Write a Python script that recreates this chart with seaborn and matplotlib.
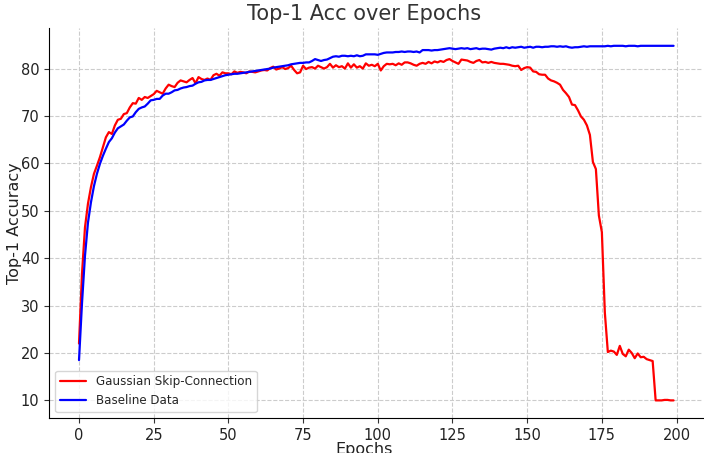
import numpy as np
import pandas as pd
import matplotlib
matplotlib.use("Agg")
import matplotlib.pyplot as plt
import seaborn as sns

epochs = list(range(200))

baseline = [
    18.5, 30.5, 40.5, 47.5, 51.8, 55.2, 57.8, 59.9, 61.6, 63.1,
    64.5, 65.3, 66.5, 67.4, 67.8, 68.2, 69.0, 69.7, 69.9, 70.8,
    71.5, 71.8, 72.0, 72.6, 73.3, 73.4, 73.6, 73.6, 74.3, 74.7,
    74.7, 75.0, 75.4, 75.5, 75.8, 76.0, 76.1, 76.3, 76.4, 76.8,
    77.1, 77.2, 77.5, 77.6, 77.6, 77.8, 78.0, 78.2, 78.4, 78.6,
    78.7, 78.8, 78.9, 78.9, 79.0, 79.1, 79.2, 79.3, 79.4, 79.5,
    79.6, 79.7, 79.8, 79.9, 80.0, 80.2, 80.3, 80.4, 80.5, 80.6,
    80.7, 80.9, 81.0, 81.1, 81.2, 81.2, 81.3, 81.3, 81.6, 82.0,
    81.8, 81.6, 81.8, 81.9, 82.2, 82.5, 82.6, 82.5, 82.7, 82.7,
    82.6, 82.7, 82.6, 82.8, 82.6, 82.7, 83.0, 83.0, 83.0, 83.0,
    82.9, 83.1, 83.3, 83.4, 83.4, 83.4, 83.5, 83.5, 83.6, 83.5,
    83.6, 83.6, 83.5, 83.6, 83.4, 83.9, 83.9, 83.9, 83.8, 83.9,
    83.9, 84.0, 84.1, 84.2, 84.3, 84.2, 84.1, 84.2, 84.3, 84.2,
    84.3, 84.1, 84.2, 84.3, 84.1, 84.2, 84.2, 84.1, 84.0, 84.2,
    84.3, 84.4, 84.3, 84.5, 84.3, 84.5, 84.4, 84.5, 84.6, 84.4,
    84.5, 84.6, 84.4, 84.6, 84.6, 84.5, 84.6, 84.6, 84.7, 84.7,
    84.6, 84.7, 84.6, 84.7, 84.5, 84.4, 84.5, 84.5, 84.6, 84.7,
    84.6, 84.7, 84.7, 84.7, 84.7, 84.7, 84.7, 84.8, 84.7, 84.8,
    84.8, 84.8, 84.8, 84.7, 84.8, 84.8, 84.8, 84.7, 84.8, 84.8,
    84.8, 84.8, 84.8, 84.8, 84.8, 84.8, 84.8, 84.8, 84.8, 84.8,
]

gaussian = [
    22.0, 36.7, 46.5, 51.5, 55.0, 57.8, 59.5, 61.3, 63.4, 65.5,
    66.6, 66.2, 68.0, 69.2, 69.4, 70.4, 70.6, 71.8, 72.7, 72.6,
    73.8, 73.4, 74.0, 73.8, 74.2, 74.6, 75.3, 75.0, 74.7, 75.8,
    76.6, 76.3, 76.1, 77.0, 77.5, 77.3, 77.1, 77.6, 78.0, 76.9,
    78.2, 77.8, 77.6, 77.9, 77.6, 78.6, 78.9, 78.5, 79.2, 79.0,
    79.0, 78.8, 79.4, 79.1, 79.3, 79.2, 79.0, 79.4, 79.3, 79.2,
    79.4, 79.6, 79.7, 79.6, 80.1, 80.4, 79.8, 80.0, 80.3, 79.9,
    80.1, 80.6, 79.7, 79.0, 79.2, 80.6, 79.9, 80.2, 80.3, 80.0,
    80.6, 80.3, 80.0, 80.3, 81.0, 80.2, 80.7, 80.3, 80.5, 80.0,
    81.1, 80.2, 80.9, 80.2, 80.5, 80.0, 81.1, 80.6, 80.8, 80.5,
    81.0, 79.6, 80.5, 81.0, 80.9, 81.0, 80.7, 81.1, 80.8, 81.3,
    81.3, 81.1, 80.8, 80.6, 81.0, 81.2, 81.0, 81.4, 81.1, 81.5,
    81.3, 81.6, 81.4, 81.8, 82.0, 81.6, 81.3, 81.0, 81.9, 81.8,
    81.7, 81.4, 81.2, 81.6, 81.8, 81.3, 81.4, 81.2, 81.4, 81.2,
    81.1, 81.0, 81.0, 80.9, 80.8, 80.6, 80.5, 80.6, 79.7, 80.1,
    80.3, 80.2, 79.4, 79.3, 78.8, 78.7, 78.7, 77.9, 77.5, 77.3,
    77.0, 76.6, 75.5, 74.8, 74.0, 72.4, 72.3, 71.2, 69.9, 69.2,
    68.0, 66.0, 60.3, 58.8, 49.0, 45.5, 28.5, 20.2, 20.5, 20.3,
    19.6, 21.5, 19.8, 19.3, 20.7, 20.0, 18.9, 19.9, 19.1, 19.2,
    18.7, 18.5, 18.3, 10.0, 10.0, 10.0, 10.1, 10.1, 10.0, 10.0,
]

series_names = ["Gaussian Skip-Connection", "Baseline Data"]

df = pd.DataFrame({
    "Epochs": epochs * 2,
    "Top-1 Accuracy": gaussian + baseline,
    "Series": [series_names[0]] * len(epochs) + [series_names[1]] * len(epochs),
})

sns.set_style("whitegrid", {"grid.linestyle": "--", "grid.color": "#cccccc",
                            "axes.edgecolor": "black"})
plt.rcParams["font.family"] = ["DejaVu Sans"]

fig, ax = plt.subplots(figsize=(7.04, 4.53), dpi=100)
fig.subplots_adjust(left=0.07, right=0.999, bottom=0.077, top=0.938)

sns.lineplot(data=df, x="Epochs", y="Top-1 Accuracy", hue="Series",
             palette={series_names[0]: "red", series_names[1]: "blue"},
             linewidth=1.6, ax=ax)

sns.despine(ax=ax)
ax.spines["left"].set_color("black")
ax.spines["bottom"].set_color("black")
ax.tick_params(axis="both", which="both", length=3.5, pad=3.5, color="#333333",
               labelsize=10.5, labelcolor="#222222", bottom=True, left=True)
ax.set_xticks([0, 25, 50, 75, 100, 125, 150, 175, 200])
ax.set_yticks([10, 20, 30, 40, 50, 60, 70, 80])
ax.set_xlabel("Epochs", fontsize=11.5, color="#222222")
ax.set_ylabel("Top-1 Accuracy", fontsize=11.5, color="#222222")
ax.xaxis.set_label_coords(0.481, -0.061)
ax.yaxis.set_label_coords(-0.042, 0.5)
ax.set_title("Top-1 Acc over Epochs", fontsize=15, color="#333333", x=0.481)
ax.grid(True, linestyle="--", color="#cccccc", linewidth=0.8)

leg = ax.legend(loc="lower left", fontsize=8.6, frameon=True,
                handlelength=2.2, borderaxespad=0.5)
leg.set_title(None)

fig.savefig("out.png", dpi=100)
